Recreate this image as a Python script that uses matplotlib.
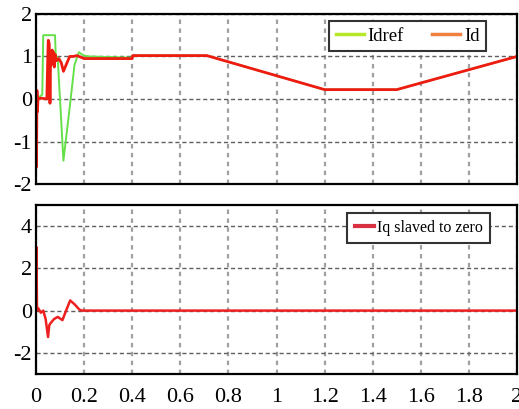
import matplotlib
matplotlib.use("Agg")
import matplotlib.pyplot as plt
from matplotlib.lines import Line2D

# values
t_idref = [0, 0.026, 0.03, 0.079, 0.082, 0.09, 0.114, 0.14, 0.16, 0.178, 0.19,
           0.2, 0.22, 0.4, 0.402, 0.71, 1.2, 1.5, 2.0]
idref = [0, 0.1, 1.5, 1.5, 1.0, 0.98, -1.45, -0.2, 0.8, 1.1, 1.05,
         1.02, 1.0, 0.97, 1.02, 1.02, 0.22, 0.22, 1.0]

t_id = [0, 0.002, 0.004, 0.006, 0.008, 0.02, 0.045, 0.049, 0.051, 0.055, 0.058,
        0.061, 0.064, 0.067, 0.07, 0.073, 0.076, 0.079, 0.085, 0.095, 0.105,
        0.114, 0.125, 0.14, 0.155, 0.17, 0.2, 0.4, 0.402, 0.71, 1.2, 1.5, 2.0]
i_d = [0, -1.6, 0.2, -0.3, 0, 0.02, 0, 1.0, 1.38, 1.3, -0.1,
       1.1, 0.8, 1.15, 0.85, 1.1, 0.75, 1.05, 0.9, 0.95, 0.85,
       0.65, 0.8, 1.0, 1.0, 1.02, 0.95, 0.95, 1.02, 1.02, 0.22, 0.22, 1.0]

t_iq = [0, 0.002, 0.004, 0.01, 0.02, 0.03, 0.04, 0.05, 0.055, 0.06, 0.075,
        0.09, 0.11, 0.125, 0.142, 0.16, 0.18, 0.19, 0.5, 1.0, 1.5, 2.0]
iq = [0, 3.0, 0, 0.1, -0.1, 0, -0.4, -1.25, -0.7, -0.6, -0.4,
      -0.3, -0.45, 0.0, 0.48, 0.3, 0.05, 0, 0, 0, 0, 0]

xticks = [0, 0.2, 0.4, 0.6, 0.8, 1, 1.2, 1.4, 1.6, 1.8, 2]
top_yticks = [-2, -1, 0, 1, 2]
bot_yticks = [-2, 0, 2, 4]

plt.rcParams["font.family"] = ["Liberation Serif", "DejaVu Serif"]
plt.rcParams["axes.unicode_minus"] = False


def style_axes(ax):
    ax.set_xlim(0, 2)
    ax.set_xticks(xticks)
    ax.set_xticklabels([("%g" % v) for v in xticks])
    ax.tick_params(length=0, labelsize=16, pad=3)
    ax.tick_params(axis="x", pad=10)
    for s in ax.spines.values():
        s.set_linewidth(1.6)
        s.set_color("black")
    ax.xaxis.grid(True, linestyle=(0, (2, 2)), linewidth=1.6, color="#a0a0a0")
    ax.yaxis.grid(True, linestyle=(0, (3, 2)), linewidth=1.0, color="#606060")
    ax.set_axisbelow(True)


fig = plt.figure(figsize=(5.19, 4.09), dpi=100)
ax1 = fig.add_axes([0.0694, 0.550, 0.9268, 0.416])
ax2 = fig.add_axes([0.0694, 0.0856, 0.9268, 0.4134])

ax1.plot(t_idref, idref, color="#66e04a", lw=1.4)
ax1.plot(t_id, i_d, color="#ee1c10", lw=2.0)
style_axes(ax1)
ax1.set_ylim(-2, 2)
ax1.set_yticks(top_yticks)
ax1.set_xticklabels([])
handles = [Line2D([], [], color="#b8e62a", lw=2.5), Line2D([], [], color="#f08040", lw=2.5)]
leg1 = ax1.legend(handles, ["Idref", "Id"], ncol=2, loc="upper right",
                  bbox_to_anchor=(0.936, 0.959), borderaxespad=0, fontsize=13.5,
                  fancybox=False, framealpha=1, edgecolor="#333333",
                  handlelength=1.5, handletextpad=0.2, columnspacing=1.5,
                  borderpad=0.35)
leg1.get_frame().set_linewidth(1.5)

ax2.plot(t_iq, iq, color="#ee2020", lw=1.8)
style_axes(ax2)
ax2.set_ylim(-3, 5)
ax2.set_yticks(bot_yticks)
leg2 = ax2.legend([Line2D([], [], color="#d83040", lw=3)], ["Iq slaved to zero"],
                  loc="upper right", bbox_to_anchor=(0.944, 0.953), borderaxespad=0,
                  fontsize=11.5, fancybox=False, framealpha=1, edgecolor="#333333",
                  handlelength=1.2, handletextpad=0.2, borderpad=0.45)
leg2.get_frame().set_linewidth(1.5)

fig.savefig("out.png", dpi=100)
